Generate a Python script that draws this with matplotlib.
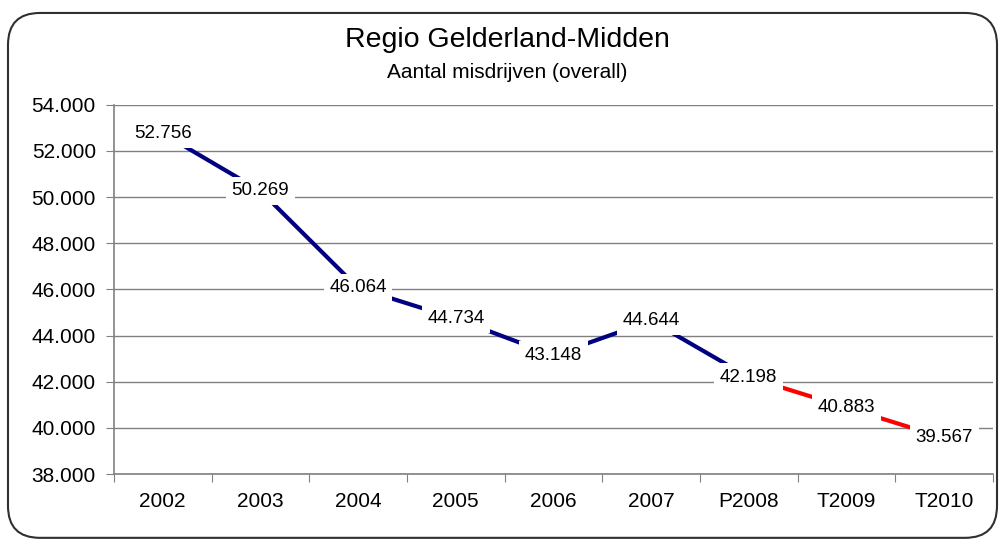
import matplotlib
matplotlib.use("Agg")
import matplotlib.pyplot as plt
from matplotlib.patches import FancyBboxPatch

plt.rcParams['font.family'] = ['Liberation Sans', 'DejaVu Sans']

categories = ["2002", "2003", "2004", "2005", "2006", "2007", "P2008", "T2009", "T2010"]
values = [52756, 50269, 46064, 44734, 43148, 44644, 42198, 40883, 39567]
labels = ["52.756", "50.269", "46.064", "44.734", "43.148", "44.644", "42.198", "40.883", "39.567"]
split_index = 6  # from P2008 onwards the line is red
y_ticks = [38000, 40000, 42000, 44000, 46000, 48000, 50000, 52000, 54000]
y_tick_labels = ["38.000", "40.000", "42.000", "44.000", "46.000", "48.000", "50.000", "52.000", "54.000"]

fig = plt.figure(figsize=(9.99, 5.4), dpi=100)
ax = fig.add_axes([0.114, 0.122, 0.880, 0.684])

x = list(range(len(categories)))
ax.plot(x[:split_index + 1], values[:split_index + 1], color="#000080", lw=3, zorder=3,
        solid_capstyle="butt")
ax.plot(x[split_index:], values[split_index:], color="#FF0000", lw=3, zorder=3,
        solid_capstyle="butt")

for xi, v, lab in zip(x, values, labels):
    ax.text(xi, v, lab, ha="center", va="center", fontsize=13.5, zorder=4,
            bbox=dict(boxstyle="square,pad=0.3", fc="white", ec="none"))

ax.set_xlim(-0.5, len(categories) - 0.5)
ax.set_ylim(38000, 54000)
ax.set_yticks(y_ticks)
ax.set_yticklabels(y_tick_labels, fontsize=15)
ax.yaxis.grid(True, color="#808080", lw=1)
ax.set_axisbelow(True)

ax.set_xticks([i - 0.5 for i in range(len(categories) + 1)])
ax.set_xticklabels([])
ax.set_xticks(x, minor=True)
ax.set_xticklabels(categories, minor=True, fontsize=15)
ax.tick_params(axis="x", which="major", length=6, color="#808080", direction="out")
ax.tick_params(axis="x", which="minor", length=0, pad=13)
ax.tick_params(axis="y", length=6, color="#808080", direction="out", pad=7)

for s in ["top", "right"]:
    ax.spines[s].set_visible(False)
for s in ["left", "bottom"]:
    ax.spines[s].set_color("#808080")
    ax.spines[s].set_linewidth(1.2)

fig.text(0.508, 0.926, "Regio Gelderland-Midden", ha="center", va="center", fontsize=20.5)
fig.text(0.508, 0.866, "Aantal misdrijven (overall)", ha="center", va="center", fontsize=15)

border = FancyBboxPatch((0.008, 0.004), 0.99, 0.972,
                        boxstyle="round,pad=0,rounding_size=0.032",
                        transform=fig.transFigure, fill=False,
                        ec="#303030", lw=1.5, mutation_aspect=999/540)
fig.patches.append(border)

fig.savefig("out.png", dpi=100)
